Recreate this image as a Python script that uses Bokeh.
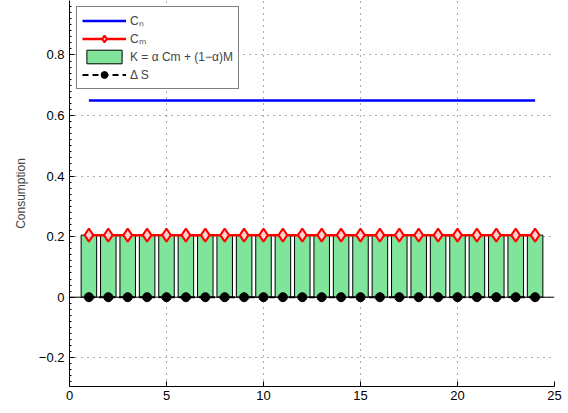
from bokeh.plotting import figure
from bokeh.models import Range1d, FixedTicker, Legend, LegendItem, Span
from bokeh.embed import file_html
from bokeh.resources import INLINE

hours = list(range(1, 25))
cn = [0.65] * 24
cm = [0.205] * 24
k_vals = [0.205] * 24
delta_s = [0.0] * 24

x_ticks = [0, 5, 10, 15, 20, 25]
y_ticks = [-0.2, 0, 0.2, 0.4, 0.6, 0.8]
y_tick_labels = ["\u22120.2", "0", "0.2", "0.4", "0.6", "0.8"]

FONT = "Liberation Sans"

p = figure(frame_width=485, frame_height=386, width=568, height=413,
           x_range=Range1d(0, 25), y_range=Range1d(-0.295, 0.98),
           output_backend="svg", toolbar_location=None,
           min_border_left=69, min_border_right=14, min_border_top=0, min_border_bottom=27)
p.outline_line_color = None
p.background_fill_color = "white"
p.border_fill_color = "white"

# grid
for g in (p.xgrid, p.ygrid):
    g.grid_line_color = "#333333"
    g.grid_line_dash = "1 5"
    g.grid_line_width = 1
    g.grid_line_alpha = 0.8
p.xgrid.ticker = FixedTicker(ticks=x_ticks)
p.ygrid.ticker = FixedTicker(ticks=y_ticks)

# axes
p.xaxis.ticker = FixedTicker(ticks=x_ticks)
minor = [round(-0.28 + 0.02 * i, 2) for i in range(0, 63)]
p.yaxis.ticker = FixedTicker(ticks=y_ticks, minor_ticks=minor)
p.yaxis.major_label_overrides = {t: l for t, l in zip(y_ticks, y_tick_labels)}
for ax in (p.xaxis, p.yaxis):
    ax.axis_line_color = "black"
    ax.major_tick_line_color = "black"
    ax.major_tick_in = 5
    ax.major_tick_out = 0
    ax.major_label_text_font = FONT
    ax.major_label_text_font_size = "13px"
    ax.major_label_text_color = "black"
p.xaxis.minor_tick_line_color = None
p.yaxis.minor_tick_in = 2
p.yaxis.minor_tick_out = 0
p.yaxis.minor_tick_line_color = "black"
p.xaxis.major_label_standoff = 4
p.yaxis.major_label_standoff = 5
p.yaxis.axis_label = "Consumption"
p.yaxis.axis_label_text_font = FONT
p.yaxis.axis_label_text_font_size = "12px"
p.yaxis.axis_label_text_font_style = "normal"
p.yaxis.axis_label_standoff = 8

# bars
bars = p.vbar(x=hours, top=k_vals, bottom=0, width=0.8,
              fill_color="#80E59A", line_color="black", line_width=1)
p.add_layout(Span(location=0, dimension="width", line_color="black", line_width=1))

# lines
cn_line = p.line(hours, cn, line_color="#0000FF", line_width=2.5)
cm_line = p.line(hours, cm, line_color="#FF0000", line_width=2.5)
cm_mark = p.scatter(hours, cm, marker="diamond", size=13, line_color="#FF0000",
                    line_width=2, fill_color="#FFD0D0")
ds_line = p.line(hours, delta_s, line_color="black", line_width=2, line_dash="6 4")
ds_mark = p.scatter(hours, delta_s, marker="circle", size=9, line_color="black",
                    fill_color="black")

legend = Legend(items=[
    LegendItem(label="C\u2099", renderers=[cn_line]),
    LegendItem(label="C\u2098", renderers=[cm_line, cm_mark]),
    LegendItem(label="K = \u03b1 Cm + (1\u2212\u03b1)M", renderers=[bars]),
    LegendItem(label="\u0394 S", renderers=[ds_line, ds_mark]),
], location=(7, 297))
legend.border_line_color = "black"
legend.border_line_width = 1
legend.background_fill_alpha = 1
legend.label_text_font = FONT
legend.label_text_font_size = "12px"
legend.glyph_width = 44
legend.glyph_height = 17
legend.label_height = 17
legend.spacing = 1
legend.padding = 5
legend.margin = 0
legend.label_standoff = 4
p.add_layout(legend)

open("out.html", "w").write(file_html(p, INLINE))
